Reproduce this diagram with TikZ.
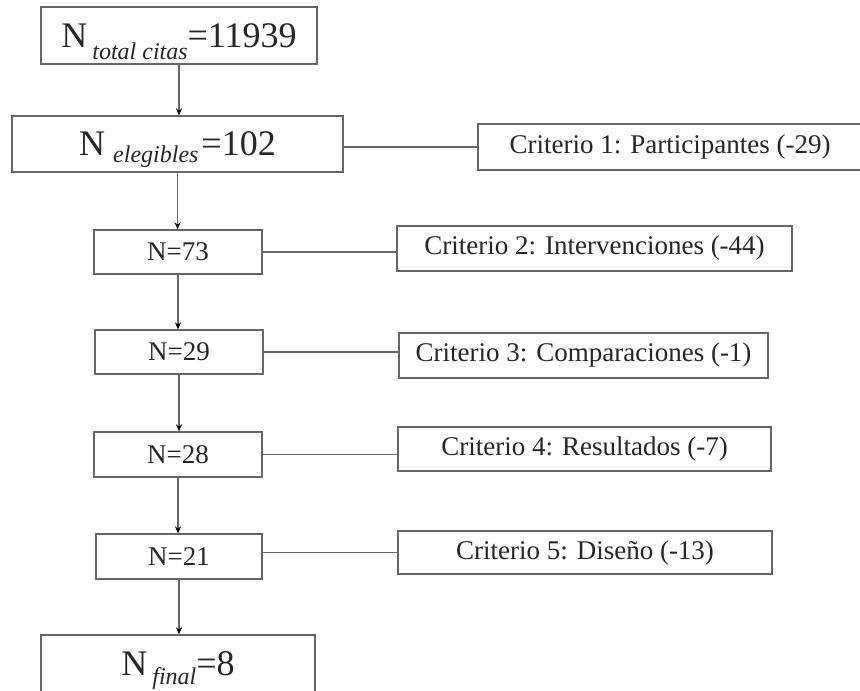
\documentclass[tikz,border=0pt]{standalone}
\usepackage{fontspec}
\setmainfont{Liberation Serif}
\usetikzlibrary{arrows.meta}
\newcommand\bigfs{\fontsize{36}{40}\selectfont}
\newcommand\subfs{\fontsize{24}{26}\selectfont\itshape}
\begin{document}
\begin{tikzpicture}[x=1pt,y=-1pt,
  box/.style={draw=black!60, line width=1.3pt, inner sep=0pt, text=black!85,
              font=\fontsize{27}{30}\selectfont},
  conn/.style={draw=black!60, line width=1.3pt},
  arr/.style={conn, -{Stealth[length=7pt,width=6pt,black]}}]
\useasboundingbox (0,0) rectangle (860,691);
\fill[white] (0,0) rectangle (860,691);
% left column
\node[box, minimum width=276pt, minimum height=57pt] (top) at (179,35.5)
  {{\bigfs N\hspace{5pt}}\smash{\raisebox{-12pt}{\subfs total citas}}{\bigfs =11939}};
\node[box, minimum width=331pt, minimum height=56pt] (eleg) at (177.5,144)
  {{\bigfs N\hspace{8pt}}\smash{\raisebox{-7pt}{\subfs elegibles}}{\bigfs\hspace{3pt}=102}};
\node[box, minimum width=168pt, minimum height=44pt] (n73) at (178,252) {N=73};
\node[box, minimum width=168pt, minimum height=44pt] (n29) at (179,352) {N=29};
\node[box, minimum width=168pt, minimum height=45pt] (n28) at (178,454.5) {N=28};
\node[box, minimum width=166pt, minimum height=45pt] (n21) at (179,556.5) {N=21};
\node[box, minimum width=274pt, minimum height=57pt] (fin) at (178,663.5)
  {{\bigfs N\hspace{5pt}}\smash{\raisebox{-9pt}{\subfs final}}{\bigfs =8}};
% criteria
\node[box, minimum width=384pt, minimum height=46pt] (c1) at (670,147) {Criterio 1: Participantes (-29)};
\node[box, minimum width=395pt, minimum height=45pt] (c2) at (594.5,248.5) {Criterio 2: Intervenciones (-44)};
\node[box, minimum width=369pt, minimum height=45pt] (c3) at (583.5,355.5) {Criterio 3: Comparaciones (-1)};
\node[box, minimum width=373pt, minimum height=44pt] (c4) at (584.5,449) {Criterio 4: Resultados (-7)};
\node[box, minimum width=374pt, minimum height=43pt] (c5) at (585,552.5) {Criterio 5: Diseño (-13)};
% vertical arrows
\draw[arr] (top.south) -- (top.south |- eleg.north);
\draw[arr] (eleg.south) -- (eleg.south |- n73.north);
\draw[arr] (n73.south) -- (n73.south |- n29.north);
\draw[arr] (n29.south) -- (n29.south |- n28.north);
\draw[arr] (n28.south) -- (n28.south |- n21.north);
\draw[arr] (n21.south) -- (n21.south |- fin.north);
% horizontal connectors
\draw[conn] (c1.west) -- (c1.west -| eleg.east);
\draw[conn] (n73.east) -- (n73.east -| c2.west);
\draw[conn] (n29.east) -- (n29.east -| c3.west);
\draw[conn] (n28.east) -- (n28.east -| c4.west);
\draw[conn] (c5.west) -- (c5.west -| n21.east);
\end{tikzpicture}
\end{document}
